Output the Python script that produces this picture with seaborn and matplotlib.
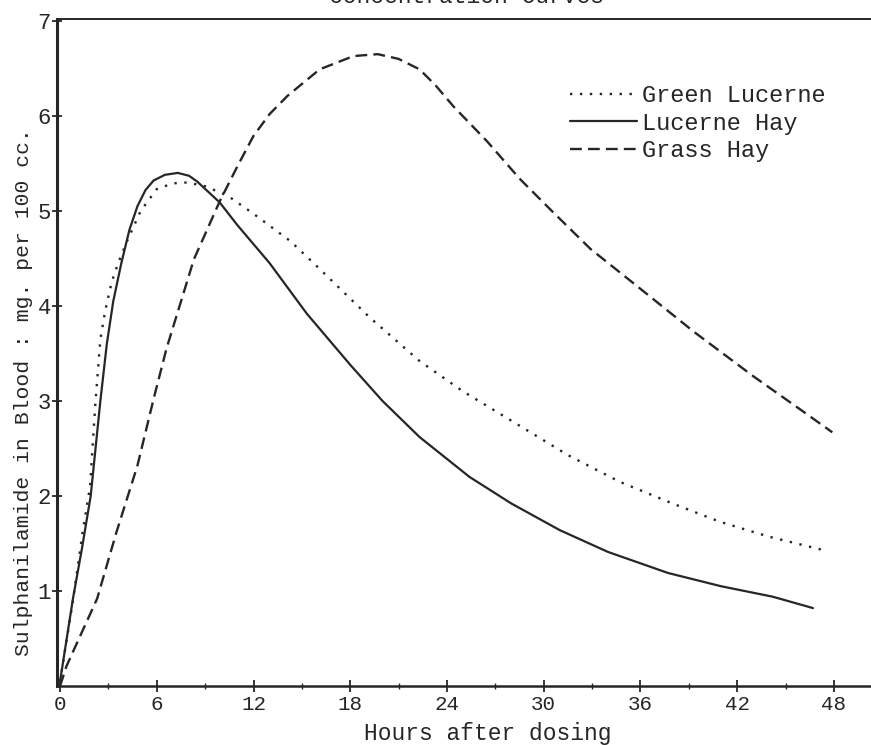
import numpy as np
import pandas as pd
import matplotlib
matplotlib.use('Agg')
import matplotlib.pyplot as plt
import seaborn as sns

# ==========================================
# DADOS
# ==========================================
lucerne_hay_h = [0, 0.8, 1.35, 1.9, 2.5, 2.9, 3.3, 3.8, 4.3, 4.8, 5.3, 5.8, 6.5, 7.3, 8.0, 8.5,
                 9.2, 9.9, 11, 13, 15.3, 18, 20, 22.3, 25.4, 28, 31, 34, 37.7, 41, 44.2, 46.7]
lucerne_hay = [0.05, 0.92, 1.44, 2.0, 3.0, 3.6, 4.05, 4.45, 4.8, 5.05, 5.22, 5.32, 5.38, 5.40, 5.37, 5.31,
               5.2, 5.09, 4.85, 4.45, 3.92, 3.38, 3.0, 2.62, 2.2, 1.92, 1.64, 1.41, 1.19, 1.05, 0.94, 0.82]

green_lucerne_h = [0, 0.8, 1.4, 1.86, 2.2, 2.5, 2.8, 3.2, 3.6, 4.2, 5.0, 6.0, 7.0, 7.9, 9.0, 10.4,
                   12, 14.3, 16.1, 19.2, 22.3, 25, 28.5, 31.5, 34.7, 38, 40.9, 44, 47.6]
green_lucerne = [0.05, 0.9, 1.62, 2.1, 3.0, 3.65, 3.95, 4.25, 4.45, 4.7, 5.0, 5.23, 5.29, 5.30, 5.26, 5.16,
                 4.97, 4.68, 4.39, 3.88, 3.42, 3.1, 2.74, 2.43, 2.15, 1.92, 1.73, 1.57, 1.42]

grass_hay_h = [0, 0.4, 2.3, 3.5, 4.8, 5.8, 6.6, 8.3, 9.9, 11, 12.0, 13, 14.1, 16.1, 18.2, 19.7,
               21, 22.3, 23.3, 24.4, 26.5, 28.5, 30.5, 32.9, 36, 39.3, 43.0, 46, 47.9]
grass_hay = [0.0, 0.21, 0.92, 1.62, 2.32, 3.02, 3.55, 4.49, 5.1, 5.47, 5.79, 6.02, 6.21, 6.49, 6.63, 6.65,
             6.6, 6.49, 6.32, 6.1, 5.73, 5.34, 5.0, 4.6, 4.18, 3.73, 3.26, 2.9, 2.67]

x_ticks = [0, 6, 12, 18, 24, 30, 36, 42, 48]
y_ticks = [1, 2, 3, 4, 5, 6, 7]

ink = '#262626'

# ==========================================
# FIGURA
# ==========================================
sns.set_style('ticks')
plt.rcParams['font.family'] = ['Liberation Mono', 'DejaVu Sans']

fig = plt.figure(figsize=(8.71, 7.45), dpi=100)
ax = fig.add_axes([57 / 871, 59 / 745, 814 / 871, 667 / 745])

sns.lineplot(x=green_lucerne_h, y=green_lucerne, ax=ax, color=ink, lw=1.7,
             linestyle=(0, (1, 3.2)), label='Green Lucerne')
sns.lineplot(x=lucerne_hay_h, y=lucerne_hay, ax=ax, color=ink, lw=1.6,
             linestyle='-', label='Lucerne Hay')
sns.lineplot(x=grass_hay_h, y=grass_hay, ax=ax, color=ink, lw=1.7,
             linestyle=(0, (5, 2.6)), label='Grass Hay')

ax.set_xlim(-0.19, 50.3)
ax.set_ylim(0, 7.02)
ax.set_xticks(x_ticks)
ax.set_xticks(np.arange(3, 49, 6), minor=True)
ax.set_yticks(y_ticks)
ax.tick_params(axis='x', which='major', direction='inout', length=9, width=1.3,
               colors=ink, labelsize=15, pad=2)
ax.tick_params(axis='x', which='minor', direction='inout', length=5, width=1.0, colors=ink)
ax.tick_params(axis='y', which='major', direction='inout', length=7, width=1.3,
               colors=ink, labelsize=16, pad=1)

for side in ['left', 'bottom', 'top']:
    ax.spines[side].set_color(ink)
ax.spines['left'].set_linewidth(2.2)
ax.spines['bottom'].set_linewidth(1.8)
ax.spines['top'].set_linewidth(1.4)
ax.spines['right'].set_visible(False)

ax.set_xlabel('Hours after dosing', fontsize=16.5, color=ink)
ax.xaxis.set_label_coords(431 / 814, -36 / 667)
ax.set_ylabel('Sulphanilamide in Blood : mg. per 100 cc.', fontsize=15.4, color=ink)
ax.yaxis.set_label_coords(-24 / 814, 294 / 667)

leg = ax.legend(loc='upper left', bbox_to_anchor=(570 / 871, 1 - 84 / 745),
                bbox_transform=fig.transFigure, frameon=False, fontsize=17,
                handlelength=2.85, handletextpad=0.2, labelspacing=0.2,
                borderpad=0, borderaxespad=0)
for t in leg.get_texts():
    t.set_color(ink)

# título cortado no topo, como na figura original
fig.text(466 / 871, 1 - 3 / 745, 'Concentration Curves', ha='center', va='baseline',
         fontsize=16.5, color=ink)

fig.savefig('out.png', dpi=100)
